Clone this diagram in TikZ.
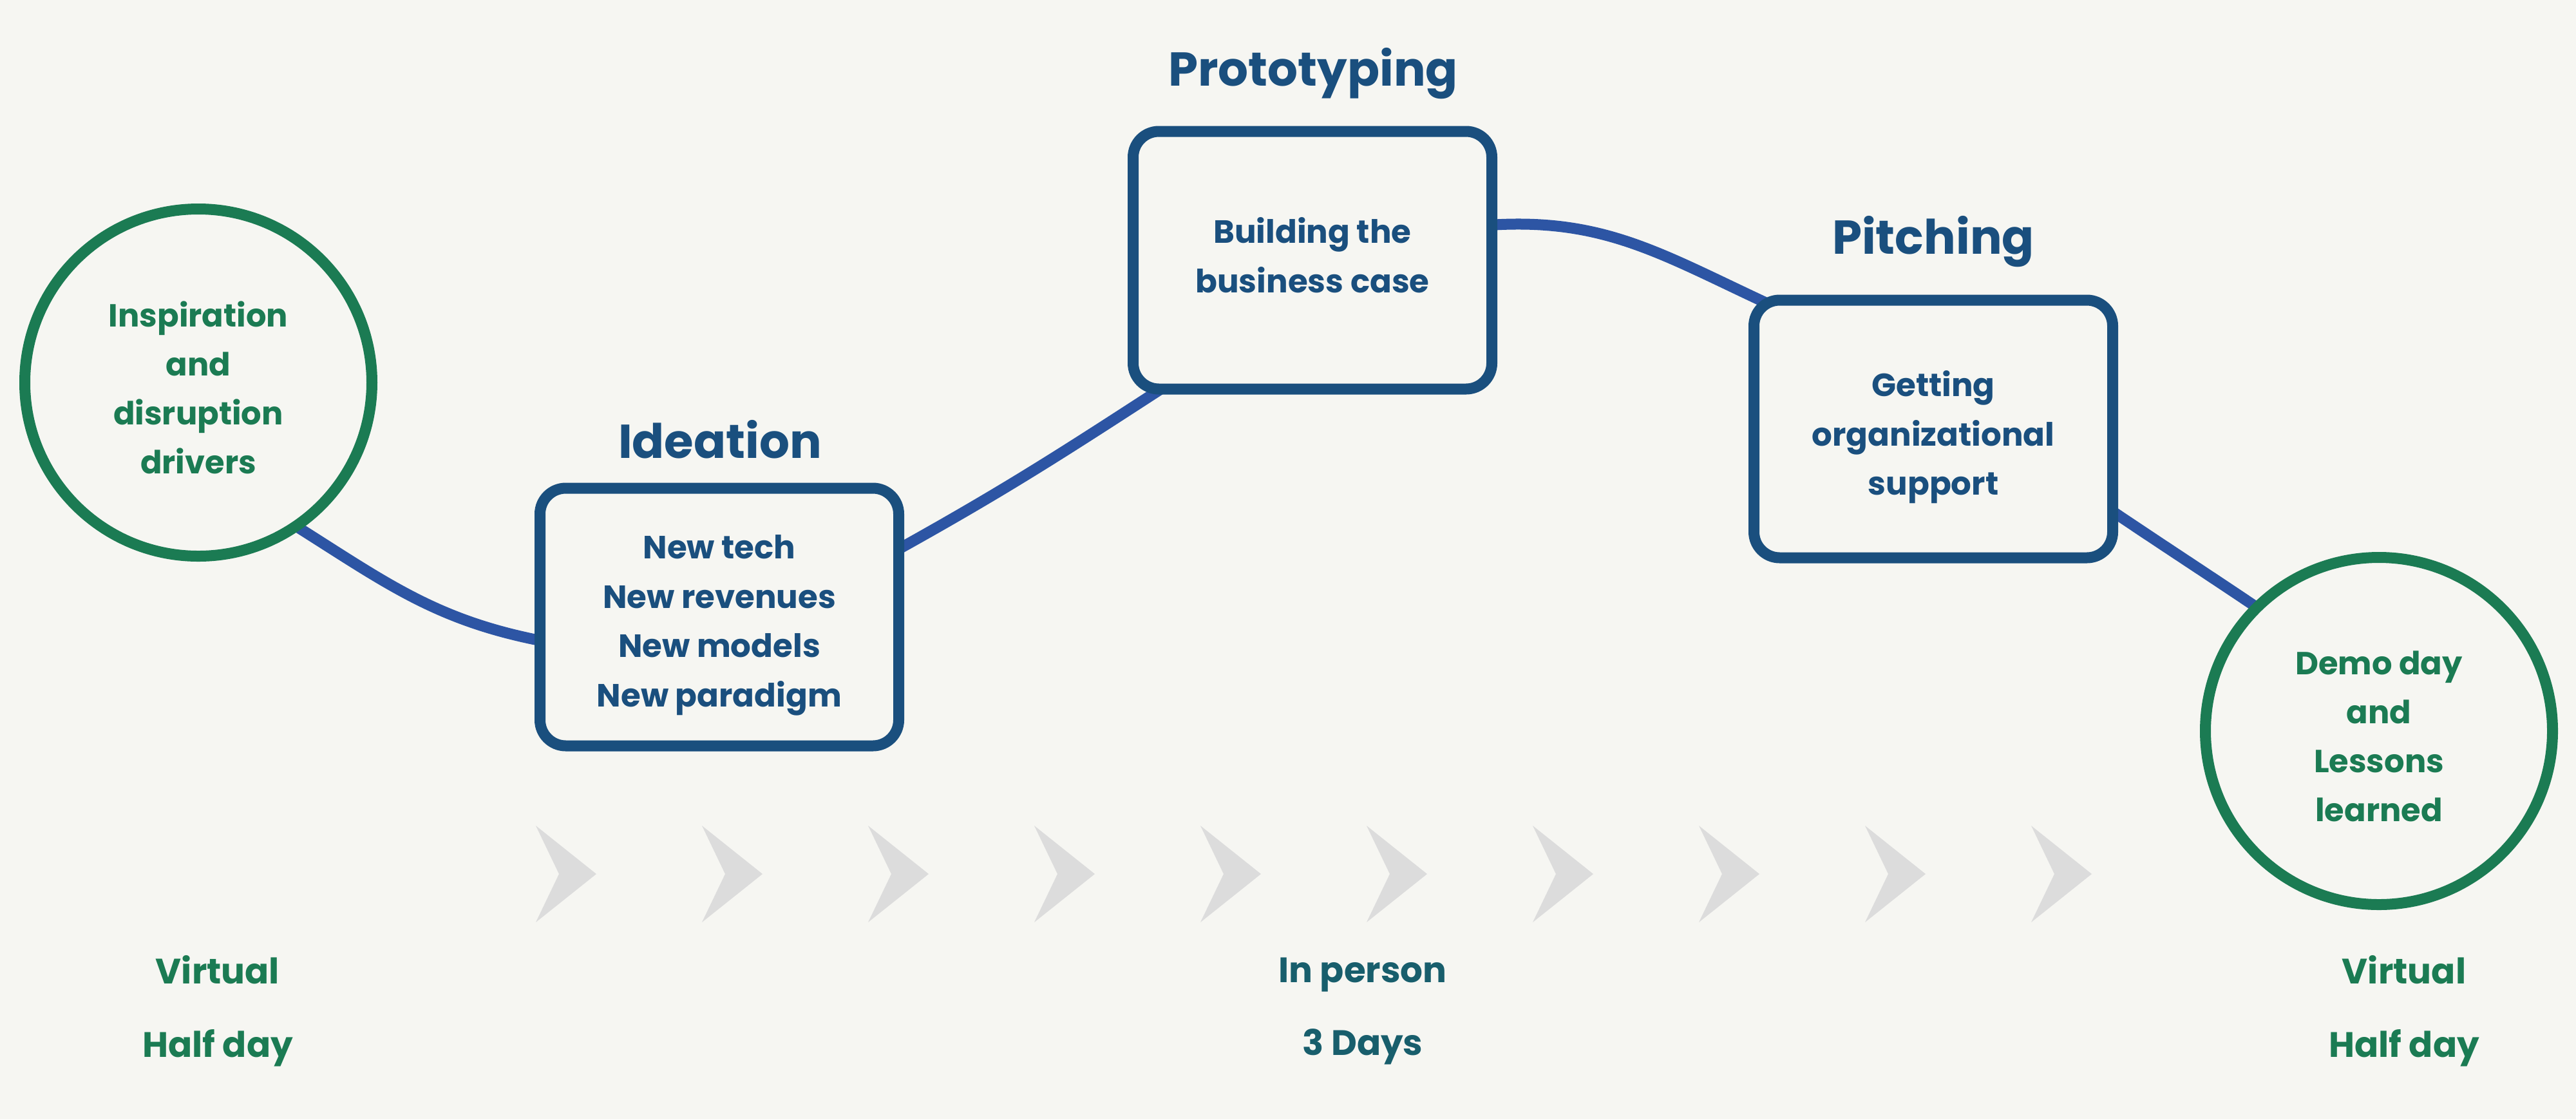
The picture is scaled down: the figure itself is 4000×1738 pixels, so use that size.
\documentclass[tikz,border=0pt]{standalone}
\usepackage{fontspec}
\setmainfont{Poppins}
\pgfdeclarelayer{bglayer}
\pgfdeclarelayer{linelayer}
\pgfsetlayers{bglayer,linelayer,main}
\definecolor{bgc}{HTML}{F6F6F2}
\definecolor{grn}{HTML}{1B7B53}
\definecolor{dblue}{HTML}{1A4F7E}
\definecolor{lblue}{HTML}{2D55A4}
\definecolor{tealtxt}{HTML}{185E6C}
\definecolor{chev}{HTML}{DCDCDC}
\begin{document}
\begin{tikzpicture}[x=0.1mm,y=0.1mm,
  stage/.style={draw=dblue,fill=bgc,line width=1.7mm,rounded corners=4mm,
    minimum width=55.7mm,minimum height=40mm,inner sep=0pt},
  stagetext/.style={text=dblue,align=center,inner sep=0pt,
    font=\bfseries\fontsize{14.2}{21.8}\selectfont},
  endpt/.style={circle,draw=grn,fill=bgc,line width=1.7mm,minimum size=53.9mm,inner sep=0pt},
  endtext/.style={text=grn,align=center,inner sep=0pt,
    font=\bfseries\fontsize{14.1}{21.6}\selectfont},
  title/.style={anchor=base,text=dblue,inner sep=0pt,font=\bfseries\fontsize{21}{25}\selectfont},
  when/.style={align=center,inner sep=0pt,font=\bfseries\fontsize{15.6}{32.3}\selectfont},
  link/.style={draw=lblue,line width=1.7mm,shorten <=-3mm,shorten >=-3mm},
  chevron/.style={fill=chev}]
\begin{pgfonlayer}{bglayer}
\fill[bgc] (0,0) rectangle (4000,-1738);
\end{pgfonlayer}
\useasboundingbox (0,0) rectangle (4000,-1738);
% chevrons
\foreach \i in {0,...,9}{
  \fill[chevron] ({832+258*\i},-1282) -- ({926+258*\i},-1357) -- ({832+258*\i},-1432) -- ({868+258*\i},-1357) -- cycle;
}
% stages
\node[endpt] (c1) at (308,-594) {};
\node[stage] (ide) at (1117,-958) {};
\node[stage] (pro) at (2038,-404) {};
\node[stage] (pit) at (3002,-666) {};
\node[endpt] (c2) at (3694,-1135) {};
% stage texts
\node[endtext] (c1t) at ([yshift=-0.8mm]c1.center) {Inspiration\\and\\disruption\\drivers};
\node[stagetext] (idet) at ([yshift=-1.3mm]ide.center) {New tech\\New revenues\\New models\\New paradigm};
\node[stagetext] (prot) at ([yshift=0.8mm]pro.center) {Building the\\business case};
\node[stagetext] (pitt) at ([yshift=-1.3mm]pit.center) {Getting\\organizational\\support};
\node[endtext] (c2t) at ([yshift=-0.8mm]c2.center) {Demo day\\and\\Lessons\\learned};
% titles
\node[title] (tide) at (1118,-711) {Ideation};
\node[title] (tpro) at (2039,-133) {Prototyping};
\node[title] (tpit) at (3002,-394) {Pitching};
% durations
\node[when,text=grn] (w1) at (338,-1570) {Virtual\\Half day};
\node[when,text=tealtxt] (w2) at (2116,-1570) {In person\\3 Days};
\node[when,text=grn] (w3) at (3733,-1570) {Virtual\\Half day};
% connectors
\begin{pgfonlayer}{linelayer}
\draw[link] (c1.-55) to[out=-32,in=170] (ide.187);
\draw[link] (ide.21) to[out=29,in=-147] (pro.220);
\draw[link] (pro.11) to[out=5,in=155] (pit.144);
\draw[link] (pit.-25) to[out=-34,in=146] (c2.135);
\end{pgfonlayer}
\end{tikzpicture}
\end{document}
